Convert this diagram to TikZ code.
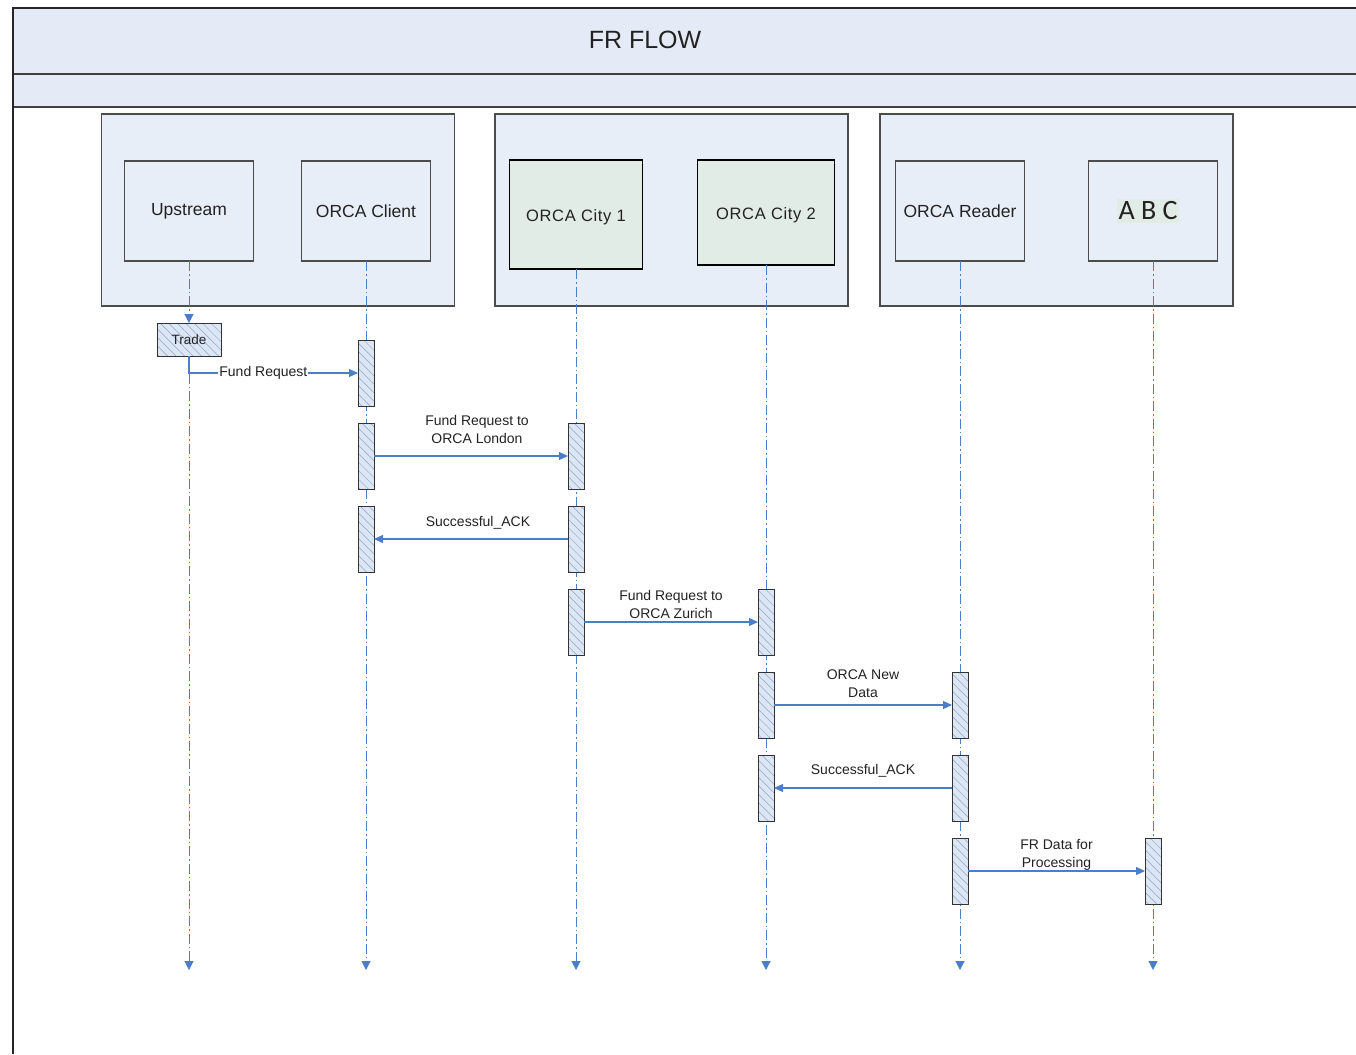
\documentclass[tikz,border=0pt]{standalone}
\usepackage{fontspec}
\setmainfont{Liberation Sans}
\newfontfamily\calib{Carlito}
\usetikzlibrary{arrows.meta,patterns.meta}
\definecolor{band}{HTML}{E4EBF6}
\definecolor{lane}{HTML}{E8EEF8}
\definecolor{cityg}{HTML}{E1ECE6}
\definecolor{lblue}{HTML}{4A7EC9}
\definecolor{barfill}{HTML}{DCE6F4}
\definecolor{hatch}{HTML}{8FA6C8}
\definecolor{txt}{HTML}{222222}
\tikzset{
  lanebox/.style={draw=black!70, line width=1.3pt, fill=lane, minimum width=353pt, minimum height=192pt, inner sep=0pt, outer sep=0pt},
  actor/.style={draw=black!70, line width=1.3pt, minimum width=129pt, minimum height=100pt, inner sep=0pt, outer sep=0pt, font=\fontsize{17.5}{20}\selectfont, text=txt},
  citybox/.style={draw=black, line width=1.8pt, fill=cityg, inner sep=0pt, outer sep=0pt, font=\fontsize{16.5}{20}\selectfont\addfontfeatures{LetterSpace=4}, text=txt},
  bar/.style={draw=black!80, line width=1pt, minimum width=16pt, minimum height=66pt, inner sep=0pt, outer sep=0pt,
    preaction={fill=barfill}, pattern={Lines[angle=-45,distance=6pt,line width=0.5pt]}, pattern color=hatch},
  life/.style={draw=lblue, line width=1pt, dash pattern=on 10pt off 3pt on 1.5pt off 3pt, -{Triangle[width=9pt,length=9pt]}},
  msg/.style={draw=lblue, line width=1.1pt, -{Triangle[width=8pt,length=9pt]}},
  mlabel/.style={font=\fontsize{14}{18}\selectfont, text=txt, align=center, inner sep=0pt},
}
\begin{document}
\begin{tikzpicture}[x=1pt,y=-1pt]
\useasboundingbox (0,0) rectangle (1356,1054);
% frame
\fill[band] (13,8) rectangle (1356,107);
\draw[black!75, line width=1.8pt] (1356,74) -- (13,74);
\draw[black!75, line width=1.8pt] (1356,107) -- (13,107);
\draw[black!85, line width=1.8pt] (1356,8) -- (13,8) -- (13,1054);
\node[font=\fontsize{25}{28}\selectfont, text=txt] (title) at (645,40) {FR FLOW};
% lanes
\node[lanebox] (lane1) at (278,210) {};
\node[lanebox] (lane2) at (671.5,210) {};
\node[lanebox] (lane3) at (1056.5,210) {};
% actors
\node[actor] (up) at (189,211) {Upstream};
\node[actor] (cl) at (366,211) {ORCA Client};
\node[citybox, minimum width=133pt, minimum height=109pt] (c1) at (576,214.5) {\raisebox{-3pt}[\height][\depth]{ORCA City 1}};
\node[citybox, minimum width=137pt, minimum height=105pt] (c2) at (766,212.5) {\raisebox{-3pt}[\height][\depth]{ORCA City 2}};
\node[actor] (rd) at (960,211) {ORCA Reader};
\node[actor] (abc) at (1153,211) {\hspace*{-10pt}\calib\fontsize{28}{30}\selectfont\colorbox{cityg}{\makebox[56pt]{A B C}}};
\coordinate (bot) at (0,970);
% trade
\node[draw=black!80, line width=1pt, minimum width=64pt, minimum height=33pt, inner sep=0pt, outer sep=0pt,
  preaction={fill=barfill}, pattern={Lines[angle=-45,distance=6pt,line width=0.5pt]}, pattern color=hatch,
  font=\fontsize{13.5}{16}\selectfont, text=txt] (trade) at (189,339.5) {Trade};
% lifelines
\draw[life] (up.south) -- (trade.north);
\draw[life] (trade.south) -- (trade.south |- bot);
\draw[life] (cl.south) -- (cl.south |- bot);
\draw[life] (c1.south) -- (c1.south |- bot);
\draw[life] (c2.south) -- (c2.south |- bot);
\draw[life] (rd.south) -- (rd.south |- bot);
\draw[life] (abc.south) -- (abc.south |- bot);
% bars
\node[bar] (clb1) at (366,373) {};
\node[bar] (clb2) at (366,456) {};
\node[bar] (c1b1) at (576,456) {};
\node[bar] (clb3) at (366,539) {};
\node[bar] (c1b2) at (576,539) {};
\node[bar] (c1b3) at (576,622) {};
\node[bar] (c2b1) at (766,622) {};
\node[bar] (c2b2) at (766,705) {};
\node[bar] (rdb1) at (960,705) {};
\node[bar] (c2b3) at (766,788) {};
\node[bar] (rdb2) at (960,788) {};
\node[bar] (rdb3) at (960,871) {};
\node[bar] (abcb) at (1153,871) {};
% messages
\draw[msg] (trade.south) |- node[pos=0.72, fill=white, mlabel, inner xsep=1pt] {Fund Request} (clb1.west);
\draw[msg] (clb2.east) -- node[above=12pt, xshift=6pt, mlabel] {Fund Request to\\ORCA London} (c1b1.west);
\draw[msg] (c1b2.west) -- node[above=9pt, xshift=7pt, mlabel] {Successful\_ACK} (clb3.east);
\draw[msg] (c1b3.east) -- node[above=3pt, mlabel] {Fund Request to\\ORCA Zurich} (c2b1.west);
\draw[msg] (c2b2.east) -- node[above=7pt, mlabel] {ORCA New\\Data} (rdb1.west);
\draw[msg] (rdb2.west) -- node[above=10pt, mlabel] {Successful\_ACK} (c2b3.east);
\draw[msg] (rdb3.east) -- node[above=0pt, mlabel] {FR Data for\\Processing} (abcb.west);
\end{tikzpicture}
\end{document}
